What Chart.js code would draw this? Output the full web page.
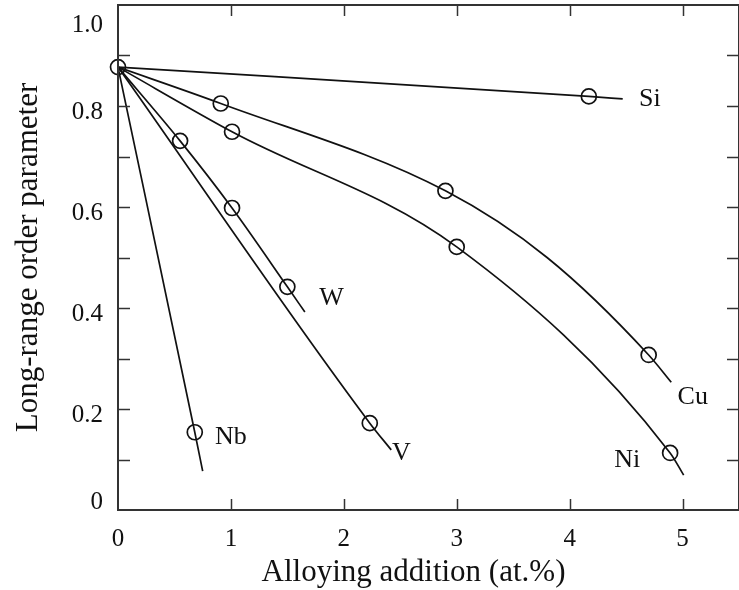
<!DOCTYPE html>
<html><head><meta charset="utf-8">
<script src="https://cdn.jsdelivr.net/npm/chart.js@4.4.1/dist/chart.umd.min.js"></script>
<style>html,body{margin:0;padding:0;background:#fff;overflow:hidden}
#wrap{width:739px;height:590px;position:relative}</style>
</head><body><div id="wrap"><canvas id="c" width="739" height="590"></canvas></div>
<script>
// ---- data ----
const startMark = [[0, 0.877]];
const siLine = [[0,0.877],[4.17,0.819],[4.47,0.814]];
const siMarks = [[4.17,0.819]];
const cuLine = [[0,0.877],[0.91,0.805],[2.90,0.632],[3.80,0.500],[4.70,0.307],[4.90,0.253]];
const cuMarks = [[0.91,0.805],[2.90,0.632],[4.70,0.307]];
const niLine = [[0,0.877],[1.01,0.749],[3.00,0.521],[4.89,0.113],[5.01,0.069]];
const niMarks = [[1.01,0.749],[3.00,0.521],[4.89,0.113]];
const wLine = [[0,0.877],[0.55,0.731],[1.01,0.598],[1.50,0.442],[1.655,0.392]];
const wMarks = [[0.55,0.731],[1.01,0.598],[1.50,0.442]];
const vLine = [[0,0.877],[2.23,0.172],[2.42,0.119]];
const vMarks = [[2.23,0.172]];
const nbLine = [[0,0.877],[0.68,0.154],[0.75,0.077]];
const nbMarks = [[0.68,0.154]];

const seriesNames = ['Si','Cu','Ni','W','V','Nb'];
const nameX = [4.71, 5.09, 4.51, 1.89, 2.51, 1.00];
const nameY = [0.814, 0.224, 0.099, 0.420, 0.113, 0.145];

const yTickValues = [0, 0.2, 0.4, 0.6, 0.8, 1.0];
const yTickLabels = ['0', '0.2', '0.4', '0.6', '0.8', '1.0'];
const xTitle = 'Alloying addition (at.%)';
const yTitle = 'Long-range order parameter';

// ---- build datasets ----
const pts = a => a.map(p => ({x: p[0], y: p[1]}));
const lineDs = a => ({data: pts(a), showLine: true, borderColor: '#111', borderWidth: 1.7,
  pointRadius: 0, pointHoverRadius: 0, cubicInterpolationMode: 'monotone', fill: false});
const markDs = a => ({data: pts(a), showLine: false, pointRadius: 7.5, pointHoverRadius: 7.5,
  pointBorderColor: '#111', pointBackgroundColor: 'rgba(0,0,0,0)', pointBorderWidth: 1.7, clip: false});

const datasets = [
  lineDs(siLine), lineDs(cuLine), lineDs(niLine), lineDs(wLine), lineDs(vLine), lineDs(nbLine),
  markDs(startMark), markDs(siMarks), markDs(cuMarks), markDs(niMarks), markDs(wMarks), markDs(vMarks), markDs(nbMarks)
];

const FONT = "'Liberation Serif', 'Times New Roman', serif";

const decor = {
  id: 'decor',
  afterDraw(chart) {
    const {ctx, chartArea: a, scales: {x, y}} = chart;
    ctx.save();
    ctx.strokeStyle = '#333';
    ctx.lineWidth = 1.5;
    const seg = (x1, y1, x2, y2) => { ctx.beginPath(); ctx.moveTo(x1, y1); ctx.lineTo(x2, y2); ctx.stroke(); };
    x.ticks.forEach(t => {
      if (t.value <= 0 || t.value >= x.max) return;
      const px = Math.round(x.getPixelForValue(t.value)) + 0.5;
      seg(px, a.bottom, px, a.bottom - 11);
      seg(px, a.top, px, a.top + 11);
    });
    y.ticks.forEach(t => {
      if (t.value <= 0 || t.value >= y.max - 1e-9) return;
      const py = Math.round(y.getPixelForValue(t.value)) + 0.5;
      seg(a.left, py, a.left + 12, py);
      seg(a.right, py, a.right - 12, py);
    });
    ctx.lineWidth = 2;
    ctx.strokeRect(a.left, a.top, a.right - a.left, a.bottom - a.top);

    ctx.fillStyle = '#111';
    ctx.font = '25px ' + FONT;
    ctx.textAlign = 'right';
    ctx.textBaseline = 'middle';
    yTickValues.forEach((v, i) => {
      let py = y.getPixelForValue(v) + 6;
      py = Math.min(Math.max(py, a.top + 20), a.bottom - 8);
      ctx.fillText(yTickLabels[i], a.left - 15, py);
    });

    ctx.font = '26px ' + FONT;
    ctx.textAlign = 'center';
    seriesNames.forEach((n, i) => {
      ctx.fillText(n, x.getPixelForValue(nameX[i]), y.getPixelForValue(nameY[i]));
    });

    ctx.font = '31px ' + FONT;
    ctx.fillText(xTitle, (a.left + a.right) / 2 - 15, 573);
    ctx.restore();
  }
};

new Chart(document.getElementById('c'), {
  type: 'scatter',
  data: {datasets},
  plugins: [decor],
  options: {
    responsive: false,
    animation: false,
    events: [],
    layout: {autoPadding: false, padding: {top: 5, right: 0, bottom: 0, left: 0}},
    plugins: {legend: {display: false}, tooltip: {enabled: false}},
    scales: {
      x: {
        type: 'linear', min: 0, max: 5.5,
        grid: {display: false},
        border: {display: false},
        ticks: {stepSize: 1, includeBounds: false, padding: 6, color: '#111',
          font: {family: FONT, size: 25}, callback: v => String(v)},
        afterFit: s => { s.height = 80; s.paddingLeft = 0; s.paddingRight = 0; }
      },
      y: {
        type: 'linear', min: 0, max: 1.0,
        grid: {display: false},
        border: {display: false},
        ticks: {stepSize: 0.1, display: false},
        title: {display: true, text: yTitle, color: '#111', font: {family: FONT, size: 31},
          padding: {top: 10, bottom: 0}},
        afterFit: s => { s.width = 118; s.paddingTop = 0; s.paddingBottom = 0; }
      }
    }
  }
});
</script>
</body></html>
